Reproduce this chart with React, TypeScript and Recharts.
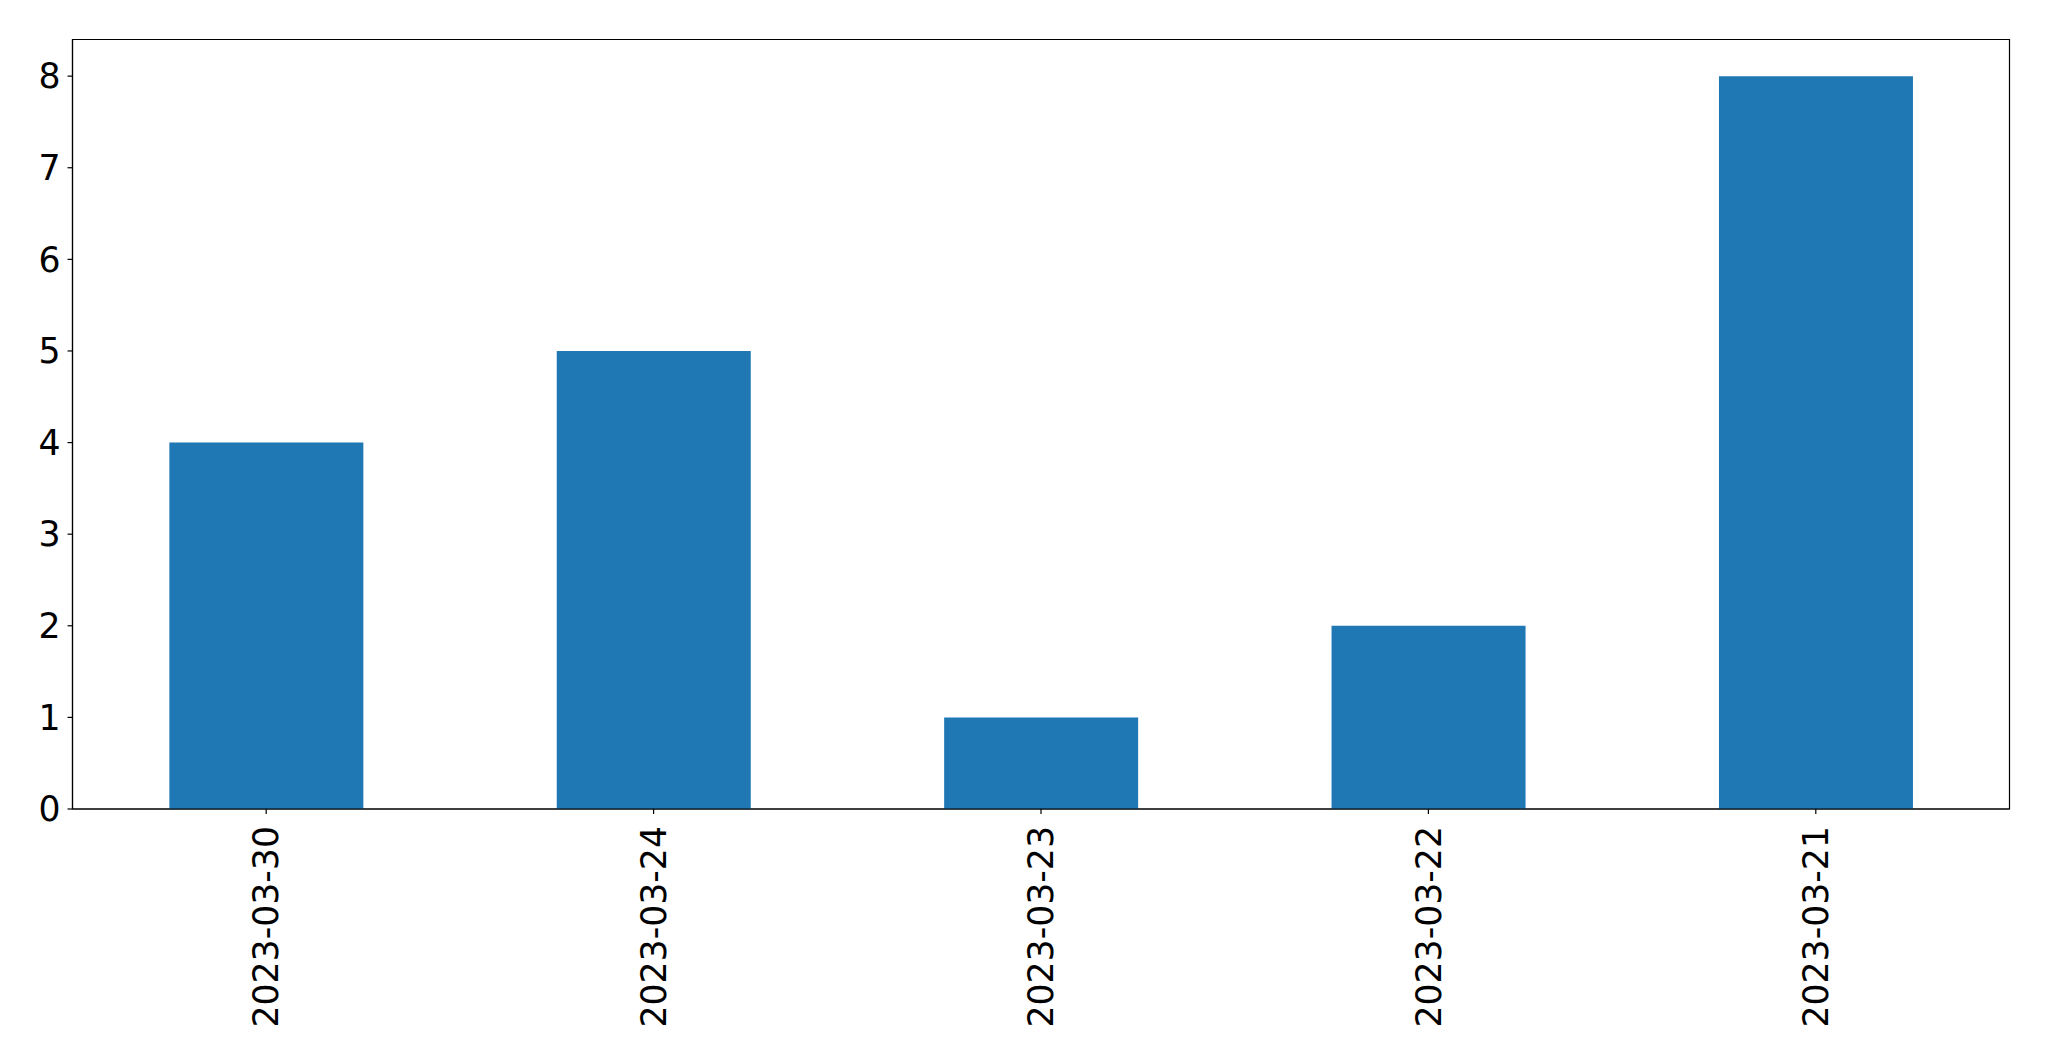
import { Bar, BarChart, ReferenceArea, XAxis, YAxis } from "recharts"

const dates = ["2023-03-30", "2023-03-24", "2023-03-23", "2023-03-22", "2023-03-21"]
const counts = [4, 5, 1, 2, 8]
const yTicks = [0, 1, 2, 3, 4, 5, 6, 7, 8]

const data = dates.map((d, i) => ({ date: d, count: counts[i] }))

const FONT = "DejaVu Sans"
const FS = 34.7

function RotatedTick(props: any) {
  const { x, y, payload } = props
  return (
    <text
      x={x}
      y={y}
      dy="0.35em"
      transform={`rotate(-90, ${x}, ${y})`}
      textAnchor="end"
      fill="#000"
      fontFamily={FONT}
      fontSize={FS}
    >
      {payload.value}
    </text>
  )
}

export default function App() {
  return (
    <div style={{ position: "absolute", left: 0, top: 0, background: "#fff" }}>
      <BarChart
        width={2049}
        height={1061}
        data={data}
        margin={{ top: 39.5, right: 39.5, bottom: 0, left: 0 }}
        barCategoryGap="25%"
      >
        <XAxis
          dataKey="date"
          height={252}
          interval={0}
          tick={<RotatedTick />}
          tickSize={5}
          tickMargin={12}
          stroke="#000"
          strokeWidth={1.2}
          tickLine={{ stroke: "#000", strokeWidth: 1.2 }}
        />
        <YAxis
          width={72.5}
          domain={[0, 8.4]}
          ticks={yTicks}
          interval={0}
          tickSize={5}
          tickMargin={7}
          stroke="#000"
          strokeWidth={1.2}
          tick={{ fill: "#000", fontFamily: FONT, fontSize: FS }}
        />
        <Bar dataKey="count" fill="#1f77b4" isAnimationActive={false} />
        <ReferenceArea y1={0} y2={8.4} fill="none" fillOpacity={0} stroke="#000" strokeWidth={1.2} ifOverflow="visible" />
      </BarChart>
    </div>
  )
}
